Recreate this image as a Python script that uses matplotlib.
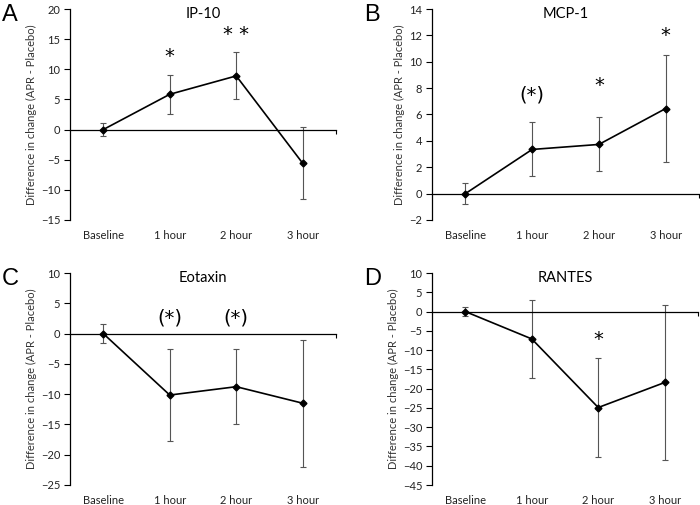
import numpy as np
import matplotlib.pyplot as plt

plt.rcParams['font.family'] = ['Lato', 'DejaVu Sans']

times = ["Baseline", "1 hour", "2 hour", "3 hour"]

# IP-10
ip10 = [0, 5.85, 8.9, -5.6]
ip10_err = [1.05, 3.25, 3.9, 5.95]
# MCP-1
mcp1 = [0, 3.35, 3.73, 6.45]
mcp1_err = [0.8, 2.05, 2.05, 4.07]
# Eotaxin
eotaxin = [0, -10.15, -8.77, -11.5]
eotaxin_err = [1.5, 7.55, 6.2, 10.5]
# RANTES
rantes = [0, -7.1, -24.9, -18.4]
rantes_err = [1.25, 10.05, 12.8, 20.2]

# significance marks: (time index, label, y)
ip10_sig = [(1, "*", 12.2), (2, "* *", 15.7)]
mcp1_sig = [(1, "(*)", 7.5), (2, "*", 8.2), (3, "*", 12.0)]
eotaxin_sig = [(1, "(*)", 2.5), (2, "(*)", 2.5)]
rantes_sig = [(2, "*", -7.2)]

panels = [
    ("A", "IP-10", ip10, ip10_err, ip10_sig, (-15, 20, 5), [70, 336, 9, 220]),
    ("B", "MCP-1", mcp1, mcp1_err, mcp1_sig, (-2, 14, 2), [432, 699, 9, 220]),
    ("C", "Eotaxin", eotaxin, eotaxin_err, eotaxin_sig, (-25, 10, 5), [70, 336, 273, 485]),
    ("D", "RANTES", rantes, rantes_err, rantes_sig, (-45, 10, 5), [432, 698, 273, 485]),
]

W, H = 700, 505
fig = plt.figure(figsize=(7, 5.05), dpi=100)

x = np.arange(len(times))
for letter, title, vals, errs, sig, (lo, hi, step), (l, r, t, b) in panels:
    ax = fig.add_axes([l / W, 1 - b / H, (r - l) / W, (b - t) / H])
    ax.errorbar(x, vals, yerr=errs, fmt="none", ecolor="#555555",
                elinewidth=0.8, capsize=2, capthick=0.8, zorder=2)
    ax.plot(x, vals, color="black", lw=1.2, marker="D", ms=3.5, zorder=3)
    ax.set_xlim(-0.5, 3.5)
    ax.set_ylim(lo, hi)
    ax.set_yticks(np.arange(lo, hi + step / 2, step))
    ax.tick_params(axis="y", direction="out", length=4, width=0.8,
                   labelsize=8, labelcolor="#222222", pad=3)
    for s in ["top", "right"]:
        ax.spines[s].set_visible(False)
    ax.spines["left"].set_linewidth(0.9)
    ax.spines["bottom"].set_position(("data", 0))
    ax.spines["bottom"].set_linewidth(0.9)
    ax.set_xticks([3.5])
    ax.set_xticklabels([])
    ax.tick_params(axis="x", direction="out", length=3, width=0.8)
    for xi, lab in zip(x, times):
        ax.text(xi, -0.075, lab, transform=ax.get_xaxis_transform(),
                ha="center", va="center", fontsize=8, color="#222222")
    ax.set_ylabel("Difference in change (APR - Placebo)", fontsize=8,
                  color="#333333", labelpad=3)
    ax.text(0.5, 0.975, title, transform=ax.transAxes, ha="center",
            va="center", fontsize=10.5)
    for xi, lab, yv in sig:
        ax.text(xi, yv, lab, ha="center", va="center", fontsize=14,
                family="DejaVu Sans")
    fig.text((l - 68) / W, 1 - (t + 6) / H, letter, fontsize=17,
             family="Liberation Sans", ha="left", va="center")

fig.savefig("out.png", dpi=100)
